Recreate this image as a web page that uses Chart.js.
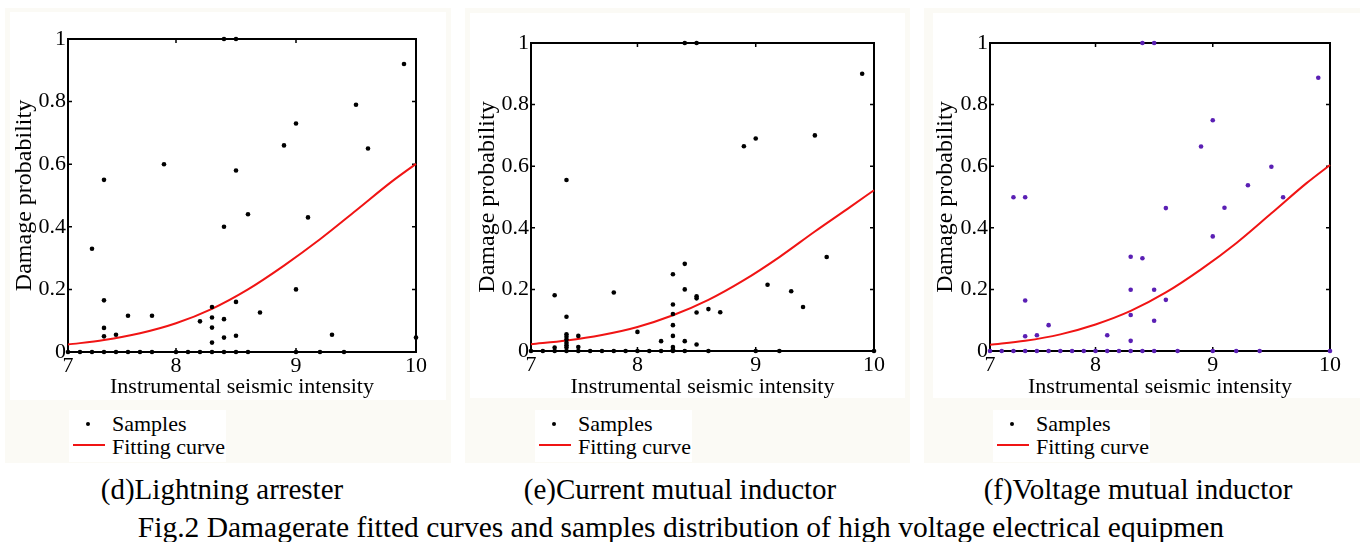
<!DOCTYPE html>
<html>
<head>
<meta charset="utf-8">
<script src="https://cdn.jsdelivr.net/npm/chart.js@4.4.1/dist/chart.umd.min.js"></script>
<style>
  html, body { margin: 0; padding: 0; background: #fff; }
  body { width: 1360px; height: 542px; position: relative; overflow: hidden;
         font-family: 'Liberation Serif', 'Times New Roman', serif; color: #000; }
  .panel { position: absolute; background: #fbfaf5; }
  .inner { position: absolute; background: #fff; }
  canvas.plot { position: absolute; top: 0; }
  .legend { position: absolute; top: 410px; width: 157px; height: 52px; background: #fff; font-size: 22px; }
  .legend .txt { position: absolute; left: 43px; line-height: 22px; white-space: nowrap; }
  .legend .dot { position: absolute; left: 17px; top: 12px; width: 4px; height: 4px; border-radius: 50%; background: #000; }
  .legend .line { position: absolute; left: 4px; top: 34px; width: 32px; height: 2px; background: #f01414; }
  .cap { position: absolute; white-space: nowrap; transform: translateX(-50%); line-height: 32px; }
</style>
</head>
<body>
  <!-- panel backgrounds -->
  <div class="panel" style="left:5px;top:8px;width:446px;height:455px"></div>
  <div class="inner" style="left:10px;top:12px;width:436px;height:388px"></div>
  <div class="panel" style="left:465px;top:8px;width:445px;height:455px"></div>
  <div class="inner" style="left:470px;top:13px;width:435px;height:385px"></div>
  <div class="panel" style="left:924px;top:8px;width:436px;height:455px"></div>
  <div class="inner" style="left:933px;top:13px;width:427px;height:385px"></div>

  <canvas class="plot" id="chartD" width="440" height="400" style="left:0px"></canvas>
  <canvas class="plot" id="chartE" width="440" height="400" style="left:460px"></canvas>
  <canvas class="plot" id="chartF" width="440" height="400" style="left:920px"></canvas>

  <div class="legend" style="left:69px">
    <div class="dot"></div><div class="txt" style="top:3px">Samples</div>
    <div class="line"></div><div class="txt" style="top:26px">Fitting curve</div>
  </div>
  <div class="legend" style="left:535px">
    <div class="dot"></div><div class="txt" style="top:3px">Samples</div>
    <div class="line"></div><div class="txt" style="top:26px">Fitting curve</div>
  </div>
  <div class="legend" style="left:993px">
    <div class="dot"></div><div class="txt" style="top:3px">Samples</div>
    <div class="line"></div><div class="txt" style="top:26px">Fitting curve</div>
  </div>

  <div class="cap" style="left:222px;top:473px;font-size:29px">(d)Lightning arrester</div>
  <div class="cap" style="left:680px;top:473px;font-size:29px">(e)Current mutual inductor</div>
  <div class="cap" style="left:1138px;top:473px;font-size:29px">(f)Voltage mutual inductor</div>
  <div class="cap" style="left:681px;top:511px;font-size:29.5px">Fig.2 Damagerate fitted curves and samples distribution of high voltage electrical equipmen</div>

<script>
// axis ticks (the frame starts a little after 7 but is labelled 7)
const xTicks = [7.1, 8, 9, 10];
const xTickLabels = ['7', '8', '9', '10'];
const yTicks = [0, 0.2, 0.4, 0.6, 0.8, 1];
const yTickLabels = ['0', '0.2', '0.4', '0.6', '0.8', '1'];

// (d) lightning arrester samples [intensity, damage probability]
const samplesD = [
  [8.4, 1.0], [8.5, 1.0], [9.9, 0.92], [9.5, 0.79], [9.0, 0.73], [8.9, 0.66], [9.6, 0.65],
  [7.9, 0.6], [8.5, 0.58], [7.4, 0.55], [8.6, 0.44], [9.1, 0.43], [8.4, 0.4], [7.3, 0.33],
  [9.0, 0.2], [7.4, 0.165], [8.5, 0.16], [8.3, 0.144], [8.7, 0.126], [7.6, 0.116], [7.8, 0.116],
  [8.3, 0.11], [8.4, 0.105], [8.2, 0.098], [8.3, 0.078], [7.4, 0.077], [7.5, 0.055], [8.5, 0.052],
  [7.4, 0.05], [8.4, 0.046], [9.3, 0.055], [10.0, 0.046], [8.3, 0.03],
  [7.1, 0], [7.2, 0], [7.3, 0], [7.4, 0], [7.5, 0], [7.6, 0], [7.7, 0], [7.8, 0], [8.0, 0],
  [8.1, 0], [8.2, 0], [8.3, 0], [8.4, 0], [8.5, 0], [8.6, 0], [9.0, 0], [9.2, 0], [9.4, 0]
];
// (e) current mutual inductor samples
const samplesE = [
  [8.4, 1.0], [8.5, 1.0], [9.9, 0.9], [9.5, 0.7], [9.0, 0.69], [8.9, 0.665], [7.4, 0.555],
  [9.6, 0.305], [8.4, 0.283], [8.3, 0.249], [9.1, 0.215], [8.4, 0.2], [9.3, 0.194], [7.8, 0.19],
  [7.3, 0.181], [8.5, 0.178], [8.5, 0.171], [8.3, 0.151], [9.4, 0.143], [8.6, 0.136], [8.5, 0.125],
  [8.7, 0.126], [8.3, 0.12], [7.4, 0.111], [8.3, 0.084], [8.0, 0.062], [7.4, 0.054], [8.3, 0.049],
  [7.5, 0.049], [7.4, 0.046], [7.4, 0.037], [8.2, 0.032], [8.4, 0.032], [7.4, 0.027], [8.5, 0.021],
  [7.4, 0.019], [7.3, 0.011], [7.4, 0.011], [7.5, 0.013], [8.3, 0.013], [8.3, 0.005],
  [7.1, 0], [7.2, 0], [7.3, 0], [7.4, 0], [7.5, 0], [7.6, 0], [7.7, 0], [7.8, 0], [7.9, 0],
  [8.0, 0], [8.1, 0], [8.2, 0], [8.3, 0], [8.4, 0], [8.6, 0], [9.0, 0], [9.2, 0], [10.0, 0]
];
// (f) voltage mutual inductor samples
const samplesF = [
  [8.4, 1.0], [8.5, 1.0], [9.9, 0.887], [9.0, 0.749], [8.9, 0.664], [9.5, 0.598], [9.3, 0.538],
  [9.6, 0.499], [7.3, 0.499], [7.4, 0.499], [8.6, 0.464], [9.1, 0.465], [9.0, 0.372], [8.3, 0.306],
  [8.4, 0.301], [8.3, 0.199], [8.5, 0.199], [7.4, 0.164], [8.6, 0.166], [8.3, 0.117], [8.5, 0.098],
  [7.6, 0.084], [7.5, 0.051], [7.4, 0.048], [8.1, 0.051], [8.3, 0.033],
  [7.1, 0], [7.2, 0], [7.3, 0], [7.4, 0], [7.5, 0], [7.6, 0], [7.7, 0], [7.8, 0], [7.9, 0], [8.0, 0],
  [8.1, 0], [8.2, 0], [8.3, 0], [8.4, 0], [8.5, 0], [8.7, 0], [9.0, 0], [9.2, 0], [9.4, 0], [10.0, 0]
];

// fitting curves
const curveX = [7.1, 7.4, 7.7, 8.0, 8.3, 8.6, 8.9, 9.2, 9.5, 9.8, 10.0];
const curveD = [0.024, 0.038, 0.06, 0.092, 0.138, 0.2, 0.276, 0.36, 0.452, 0.545, 0.601];
const curveE = [0.022, 0.034, 0.052, 0.078, 0.116, 0.166, 0.23, 0.305, 0.388, 0.468, 0.522];
const curveF = [0.02, 0.033, 0.054, 0.086, 0.13, 0.19, 0.265, 0.35, 0.447, 0.545, 0.604];

Chart.defaults.font.family = "'Liberation Serif', 'Times New Roman', serif";
Chart.defaults.color = '#000';

// MATLAB style box with inward tick marks
const frameTicks = {
  id: 'frameTicks',
  beforeDatasetsDraw(chart) {
    const { ctx, chartArea: a, scales: { x, y } } = chart;
    ctx.save();
    ctx.strokeStyle = '#000';
    ctx.lineWidth = 2;
    ctx.strokeRect(a.left, a.top, a.right - a.left, a.bottom - a.top);
    ctx.lineWidth = 1.5;
    ctx.beginPath();
    y.ticks.forEach(t => {
      const py = y.getPixelForValue(t.value);
      ctx.moveTo(a.left, py); ctx.lineTo(a.left + 4, py);
      ctx.moveTo(a.right, py); ctx.lineTo(a.right - 4, py);
    });
    x.ticks.forEach(t => {
      const px = x.getPixelForValue(t.value);
      ctx.moveTo(px, a.bottom); ctx.lineTo(px, a.bottom - 4);
      ctx.moveTo(px, a.top); ctx.lineTo(px, a.top + 4);
    });
    ctx.stroke();
    ctx.restore();
  }
};

function makePanel(id, samples, curve, dotColor, lay) {
  new Chart(document.getElementById(id).getContext('2d'), {
    type: 'scatter',
    data: {
      datasets: [{
        label: 'Samples',
        data: samples.map(p => ({ x: p[0], y: p[1] })),
        backgroundColor: dotColor,
        borderColor: dotColor,
        pointRadius: 2.3,
        borderWidth: 0,
        clip: false
      }, {
        label: 'Fitting curve',
        data: curveX.map((v, i) => ({ x: v, y: curve[i] })),
        showLine: true,
        borderColor: '#f01414',
        borderWidth: 2,
        pointRadius: 0,
        cubicInterpolationMode: 'monotone',
        clip: false
      }]
    },
    options: {
      responsive: false,
      animation: false,
      events: [],
      layout: { padding: { top: lay.top, right: lay.right, left: 0, bottom: 0 } },
      plugins: { legend: { display: false }, tooltip: { enabled: false } },
      scales: {
        x: {
          type: 'linear', min: 7.1, max: 10,
          grid: { display: false, drawTicks: false },
          border: { display: false },
          afterBuildTicks: s => { s.ticks = xTicks.map(v => ({ value: v })); },
          afterFit: s => { s.height = lay.xH; },
          ticks: { autoSkip: false, maxRotation: 0, padding: 1, font: { size: 22 },
                   callback: (v, i) => xTickLabels[i] },
          title: { display: true, text: 'Instrumental seismic intensity',
                   font: { size: 22 }, padding: { top: 0, bottom: 0 } }
        },
        y: {
          min: 0, max: 1,
          grid: { display: false, drawTicks: false },
          border: { display: false },
          afterBuildTicks: s => { s.ticks = yTicks.map(v => ({ value: v })); },
          afterFit: s => { s.width = lay.yW; },
          ticks: { autoSkip: false, padding: 2, font: { size: 22 },
                   callback: (v, i) => yTickLabels[i] },
          title: { display: true, text: 'Damage probability',
                   font: { size: 24 }, padding: { top: lay.titlePad, bottom: 0 } }
        }
      }
    },
    plugins: [frameTicks]
  });
}

makePanel('chartD', samplesD, curveD, '#000', { top: 39, right: 24, yW: 68, xH: 48, titlePad: 10 });
makePanel('chartE', samplesE, curveE, '#000', { top: 43, right: 26, yW: 71, xH: 49, titlePad: 13 });
makePanel('chartF', samplesF, curveF, '#5a1fb4', { top: 43, right: 30, yW: 70, xH: 49, titlePad: 11 });
</script>
</body>
</html>
